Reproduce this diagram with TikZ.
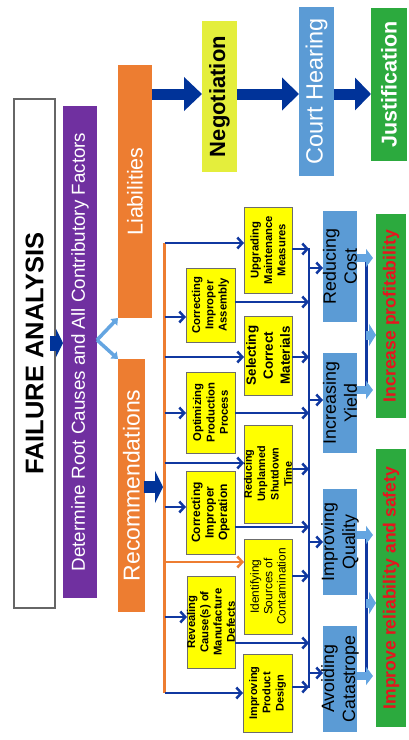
\documentclass[tikz,border=0pt]{standalone}
\usepackage{fontspec}
\setmainfont{Liberation Sans}
\usetikzlibrary{arrows.meta}
\definecolor{navy}{RGB}{0,51,153}
\definecolor{lnblue}{RGB}{16,56,160}
\definecolor{orng}{RGB}{237,125,49}
\definecolor{purp}{RGB}{112,48,160}
\definecolor{negy}{RGB}{228,238,60}
\definecolor{skyb}{RGB}{91,155,213}
\definecolor{grn}{RGB}{44,170,62}
\definecolor{yel}{RGB}{255,255,0}
\definecolor{redt}{RGB}{230,20,30}
\definecolor{ltblue}{RGB}{100,165,225}
\begin{document}
\begin{tikzpicture}[x=1pt,y=-1pt,
  every node/.style={inner sep=0pt,outer sep=0pt},
  sz/.style 2 args={minimum width=#1pt,minimum height=#2pt},
  ybox/.style={fill=yel,draw=gray!85!black,line width=0.7pt},
  bbox/.style={fill=skyb},
  gbox/.style={fill=grn},
  txt/.style={rotate=90,align=center},
  ytxt/.style={txt,font=\fontsize{11.3}{13.3}\selectfont\bfseries},
  btxt/.style={txt,font=\fontsize{17.8}{21}\selectfont},
  gtxt/.style={txt,text=redt,font=\fontsize{17.6}{21}\selectfont\bfseries},
  conn/.style={draw=lnblue,line width=2.5pt,-{Straight Barb[length=5pt,width=11pt]}},
  oconn/.style={draw=orng,line width=2.5pt,-{Straight Barb[length=5pt,width=11pt]}},
  big/.style={draw=navy},
  larr/.style={draw=ltblue,line width=8pt,-{Triangle[length=7pt,width=18pt]}},
  vee/.style={draw=ltblue,line width=3.5pt,-{Triangle[length=6pt,width=9pt]}},
]
\fill[white] (0,0) rectangle (409,740);
\useasboundingbox (0,0) rectangle (409,740);

% ---- main boxes
\node[sz={41}{509},fill=white,draw=gray!80!black,line width=1.2pt] (FA) at (34.5,353.5) {};
\node[sz={34}{492},fill=purp] (DR) at (80,352) {};
\node[sz={34}{253},fill=orng] (LIA) at (135,191.5) {};
\node[sz={27}{253},fill=orng] (REC) at (131.5,485.5) {};
\node[sz={35}{151},fill=negy] (NEG) at (219.5,96.5) {};
\node[sz={35}{169},fill=skyb] (CH) at (316.5,91.5) {};
\node[sz={36}{153},fill=grn] (JUS) at (389,84.5) {};

% ---- yellow boxes
\node[ybox,sz={48}{86}] (UMM) at (268,250) {};
\node[ybox,sz={49}{74}] (CIA) at (210.5,305) {};
\node[ybox,sz={48}{79}] (SCM) at (268,355.5) {};
\node[ybox,sz={49}{81}] (OPP) at (210.5,412.5) {};
\node[ybox,sz={48}{98}] (RUST) at (268,474) {};
\node[ybox,sz={49}{83}] (CIO) at (210.5,512.5) {};
\node[ybox,sz={48}{95}] (ISC) at (268,586.5) {};
\node[ybox,sz={48}{92}] (REV) at (211,622) {};
\node[ybox,sz={49}{78}] (IPD) at (267.5,693) {};

% ---- blue boxes
\node[bbox,sz={34}{111}] (RC) at (340,266.5) {};
\node[bbox,sz={34}{100}] (IY) at (340,403) {};
\node[bbox,sz={34}{106}] (IQ) at (340,542) {};
\node[bbox,sz={34}{106}] (AC) at (340,679) {};

% ---- green boxes
\node[gbox,sz={30}{204}] (IP) at (391,316) {};
\node[gbox,sz={30}{278}] (IRS) at (391,588) {};

% ---- coordinates
\coordinate (a0) at (0,94);
\coordinate (a1) at (0,343);
\coordinate (a2) at (0,340);
\coordinate (a3) at (0,487);
\coordinate (bt) at (164.5,243);
\coordinate (bb) at (164.5,693);
\coordinate (b1) at (164.5,243);
\coordinate (b2) at (164.5,317);
\coordinate (b3) at (164.5,357);
\coordinate (b4) at (164.5,413);
\coordinate (b5) at (164.5,463);
\coordinate (b6) at (164.5,507);
\coordinate (b7) at (164.5,562);
\coordinate (b8) at (164.5,617);
\coordinate (b9) at (164.5,693);
\coordinate (ct) at (309,248);
\coordinate (cb) at (309,688);
\coordinate (c1) at (309,249);
\coordinate (c2) at (309,302);
\coordinate (c3) at (309,357);
\coordinate (c4) at (309,413);
\coordinate (c5) at (309,469);
\coordinate (c6) at (309,527);
\coordinate (c7) at (309,576);
\coordinate (c8) at (309,643);
\coordinate (c9) at (309,687);
\coordinate (d1) at (309,268);
\coordinate (d2) at (309,400);
\coordinate (d3) at (309,542);
\coordinate (d4) at (309,673);
\coordinate (e1) at (366,258);
\coordinate (e2) at (366,390);
\coordinate (e3) at (366,335);
\coordinate (f1) at (366,535);
\coordinate (f2) at (366,676);
\coordinate (f3) at (366,603);

% ---- big arrows
\draw[big,line width=15pt,-{Triangle[length=7pt,width=28pt]},shorten <=-5pt] (FA.east |- a1) -- (DR.west |- a1);
\draw[vee] (DR.east |- a2) -- (LIA.south west);
\draw[vee] (DR.east |- a2) -- (REC.north west);
\draw[big,line width=11pt,-{Triangle[length=18pt,width=33pt]}] (LIA.east |- a0) -- (NEG.west |- a0);
\draw[big,line width=11pt,-{Triangle[length=17pt,width=32pt]}] (NEG.east |- a0) -- (CH.west |- a0);
\draw[big,line width=11pt,-{Triangle[length=16pt,width=32pt]}] (CH.east |- a0) -- (JUS.west |- a0);
\draw[big,line width=12pt,-{Triangle[length=8pt,width=32pt]},shorten <=-1pt,shorten >=1.5pt] (REC.east |- a3) -- (bt |- a3);

% ---- bar and collector
\draw[orng,line width=3pt] (bt) -- (bb);
\draw[lnblue,line width=2.5pt] (ct) -- (cb);

% bar to boxes
\draw[conn] (b1) -- (UMM.west |- b1);
\draw[conn] (b2) -- (CIA.west |- b2);
\draw[conn] (b3) -- (SCM.west |- b3);
\draw[conn] (b4) -- (OPP.west |- b4);
\draw[conn] (b5) -- (RUST.west |- b5);
\draw[conn] (b6) -- (CIO.west |- b6);
\draw[oconn] (b7) -- (ISC.west |- b7);
\draw[conn] (b8) -- (REV.west |- b8);
\draw[conn] (b9) -- (IPD.west |- b9);

% boxes to collector
\draw[conn] (UMM.east |- c1) -- (c1);
\draw[conn] (CIA.east |- c2) -- (c2);
\draw[conn] (SCM.east |- c3) -- (c3);
\draw[conn] (OPP.east |- c4) -- (c4);
\draw[conn] (RUST.east |- c5) -- (c5);
\draw[conn] (CIO.east |- c6) -- (c6);
\draw[conn] (ISC.east |- c7) -- (c7);
\draw[conn] (REV.east |- c8) -- (c8);
\draw[conn] (IPD.east |- c9) -- (c9);

% collector to blue boxes
\draw[conn] (d1) -- (RC.west |- d1);
\draw[conn] (d2) -- (IY.west |- d2);
\draw[conn] (d3) -- (IQ.west |- d3);
\draw[conn] (d4) -- (AC.west |- d4);

% blue boxes to green
\draw[lnblue,line width=3pt] (e1) -- (e2);
\draw[lnblue,line width=3pt] (f1) -- (f2);
\draw[larr] (RC.east |- e1) -- ([xshift=7pt]e1);
\draw[larr] (IY.east |- e2) -- ([xshift=7pt]e2);
\draw[larr,line width=9pt,-{Triangle[length=7pt,width=22pt]}] (e3) -- (IP.west |- e3);
\draw[larr] (IQ.east |- f1) -- ([xshift=7pt]f1);
\draw[larr] (AC.east |- f2) -- ([xshift=7pt]f2);
\draw[larr,line width=9pt,-{Triangle[length=7pt,width=22pt]}] (f3) -- (IRS.west |- f3);

% ---- texts
\node[txt,font=\fontsize{25.5}{30}\selectfont\bfseries] (FAt) at (FA.center) {FAILURE ANALYSIS};
\node[txt,text=white,font=\fontsize{18.8}{22}\selectfont] (DRt) at (DR.center) {Determine Root Causes and All Contributory Factors};
\node[txt,text=white,font=\fontsize{21.5}{25}\selectfont] (LIAt) at (LIA.center) {Liabilities};
\node[txt,text=white,font=\fontsize{23}{27}\selectfont] (RECt) at (REC.center) {Recommendations};
\node[txt,font=\fontsize{22}{26}\selectfont\bfseries] (NEGt) at (NEG.center) {Negotiation};
\node[txt,text=white,font=\fontsize{23.5}{27}\selectfont] (CHt) at (CH.center) {Court Hearing};
\node[txt,text=white,font=\fontsize{21.5}{25}\selectfont\bfseries] (JUSt) at (JUS.center) {Justification};

\node[ytxt] (UMMt) at (UMM.center) {Upgrading\\Maintenance\\Measures};
\node[ytxt] (CIAt) at (CIA.center) {Correcting\\Improper\\Assembly};
\node[txt,font=\fontsize{13.4}{17}\selectfont\bfseries] (SCMt) at (SCM.center) {Selecting\\Correct\\Materials};
\node[ytxt] (OPPt) at (OPP.center) {Optimizing\\Production\\Process};
\node[txt,font=\fontsize{10.8}{13.3}\selectfont\bfseries] (RUSTt) at (RUST.center) {Reducing\\Unplanned\\Shutdown\\Time};
\node[txt,font=\fontsize{12}{13.5}\selectfont\bfseries] (CIOt) at (CIO.center) {Correcting\\Improper\\Operation};
\node[txt,font=\fontsize{11.9}{13.3}\selectfont] (ISCt) at (ISC.center) {Identifying\\Sources of\\Contamination};
\node[ytxt] (REVt) at (REV.center) {Revealing\\Cause(s) of\\Manufacture\\Defects};
\node[txt,font=\fontsize{11}{13.3}\selectfont\bfseries] (IPDt) at (IPD.center) {Improving\\Product\\Design};

\node[btxt] (RCt) at (RC.center) {Reducing\\Cost};
\node[btxt] (IYt) at (IY.center) {Increasing\\Yield};
\node[btxt] (IQt) at (IQ.center) {Improving\\Quality};
\node[btxt] (ACt) at (AC.center) {Avoiding\\Catastrope};

\node[gtxt] (IPt) at (IP.center) {Increase profitability};
\node[gtxt] (IRSt) at (IRS.center) {Improve reliability and safety};
\end{tikzpicture}
\end{document}
